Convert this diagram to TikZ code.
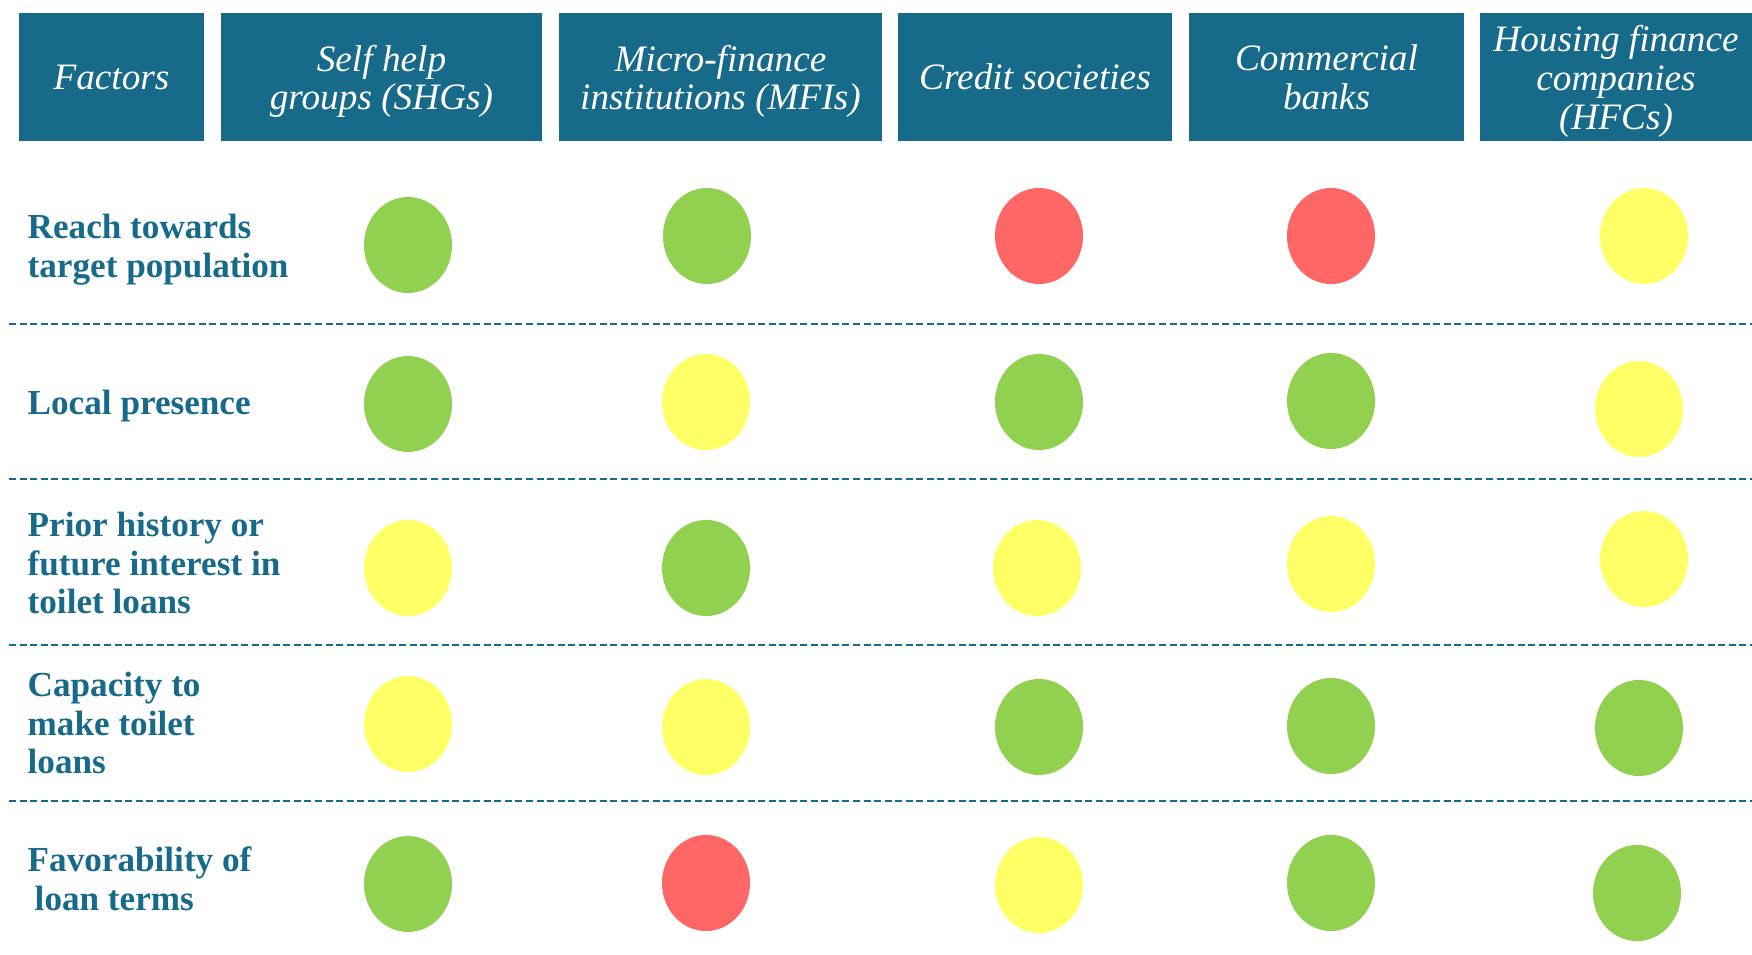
\documentclass[tikz,border=0pt]{standalone}
\usepackage{fontspec}
\setmainfont{Liberation Serif}
\usetikzlibrary{shapes.geometric}

\definecolor{hdrblue}{RGB}{24,106,139}
\definecolor{dotgreen}{RGB}{146,208,80}
\definecolor{dotred}{RGB}{255,102,102}
\definecolor{dotyellow}{RGB}{255,255,102}

% extra height on the first header line
\newcommand{\hdrstrut}{\rule{0pt}{9.9pt}}

\tikzset{
  hdr/.style={fill=hdrblue, text=white, align=center, inner sep=0pt,
    minimum height=1.28cm, font=\itshape\fontsize{10.6}{11}\selectfont},
  factor/.style={text=hdrblue, align=left, anchor=west, inner sep=0pt,
    font=\bfseries\fontsize{10}{11}\selectfont},
  dot/.style={ellipse, minimum width=0.88cm, minimum height=0.96cm, inner sep=0pt},
  sep/.style={hdrblue, line width=0.6pt, dash pattern=on 2pt off 1pt}
}

\begin{document}
\begin{tikzpicture}[x=0.01cm,y=-0.01cm]
\useasboundingbox (0,0) rectangle (1752,955);
% header row
\node[hdr, minimum width=1.85cm] (factors) at (111.5,77) {Factors};
\node[hdr, minimum width=3.21cm] (shg) at (381.5,77) {\hdrstrut Self help\\groups (SHGs)};
\node[hdr, minimum width=3.23cm] (mfi) at (720.5,77) {\hdrstrut Micro-finance\\institutions (MFIs)};
\node[hdr, minimum width=2.74cm] (credit) at (1035,77) {Credit societies};
\node[hdr, minimum width=2.75cm] (bank) at (1326.5,77) {Commercial\\banks};
\node[hdr, minimum width=2.72cm] (hfc) at (1616,77) {\hdrstrut Housing finance\\companies\\(HFCs)};

% factors
\node[factor] (reach) at (27,250) {Reach towards\\target population};
\node[factor] (local) at (27,406) {Local presence};
\node[factor] (history) at (27,563) {Prior history or\\future interest in\\toilet loans};
\node[factor] (capacity) at (27,723) {Capacity to\\make toilet\\loans};
\node[factor] (terms) at (27,879) {Favorability of\\\hspace*{2pt}loan terms};

% separators
\draw[sep] (9,324) -- (1752,324);
\draw[sep] (9,479) -- (1752,479);
\draw[sep] (9,645) -- (1752,645);
\draw[sep] (9,801) -- (1752,801);

% ratings
\node[dot, fill=dotgreen] (shg1) at (408,245) {};
\node[dot, fill=dotgreen] (mfi1) at (707,236) {};
\node[dot, fill=dotred] (credit1) at (1039,236) {};
\node[dot, fill=dotred] (bank1) at (1331,236) {};
\node[dot, fill=dotyellow] (hfc1) at (1644,236) {};

\node[dot, fill=dotgreen] (shg2) at (408,404) {};
\node[dot, fill=dotyellow] (mfi2) at (706,402) {};
\node[dot, fill=dotgreen] (credit2) at (1039,402) {};
\node[dot, fill=dotgreen] (bank2) at (1331,401) {};
\node[dot, fill=dotyellow] (hfc2) at (1639,409) {};

\node[dot, fill=dotyellow] (shg3) at (408,568) {};
\node[dot, fill=dotgreen] (mfi3) at (706,568) {};
\node[dot, fill=dotyellow] (credit3) at (1037,568) {};
\node[dot, fill=dotyellow] (bank3) at (1331,564) {};
\node[dot, fill=dotyellow] (hfc3) at (1644,559) {};

\node[dot, fill=dotyellow] (shg4) at (408,724) {};
\node[dot, fill=dotyellow] (mfi4) at (706,727) {};
\node[dot, fill=dotgreen] (credit4) at (1039,727) {};
\node[dot, fill=dotgreen] (bank4) at (1331,726) {};
\node[dot, fill=dotgreen] (hfc4) at (1639,728) {};

\node[dot, fill=dotgreen] (shg5) at (408,884) {};
\node[dot, fill=dotred] (mfi5) at (706,883) {};
\node[dot, fill=dotyellow] (credit5) at (1039,885) {};
\node[dot, fill=dotgreen] (bank5) at (1331,883) {};
\node[dot, fill=dotgreen] (hfc5) at (1637,893) {};
\end{tikzpicture}
\end{document}
